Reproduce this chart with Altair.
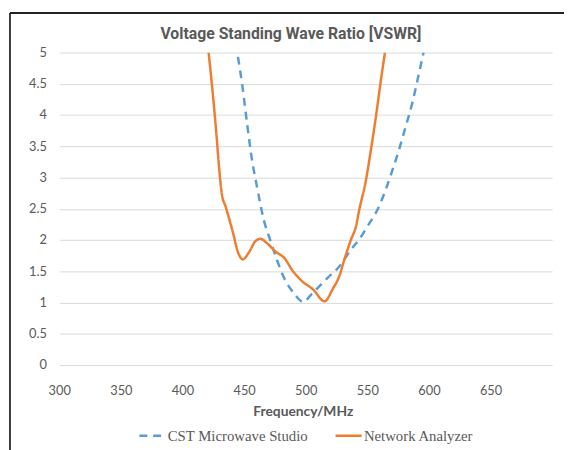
import altair as alt
import pandas as pd

# ---- data ----
title_text = "Voltage Standing Wave Ratio [VSWR]"
series_names = ["CST Microwave Studio", "Network Analyzer"]
series_colors = ["#5B9BD5", "#ED7D31"]

cst_freq = [445, 448.5, 452.5, 456.5, 460.5, 466, 471, 476.5, 483, 490, 498,
            505, 518, 527.4, 536.8, 543.4, 550.1, 558.1, 564.8, 570.2, 575.5,
            580.9, 586.2, 591.6, 595.6]
cst_vswr = [4.93, 4.48, 3.85, 3.27, 2.85, 2.32, 2.01, 1.69, 1.37, 1.16, 1.01,
            1.14, 1.40, 1.58, 1.85, 2.01, 2.22, 2.48, 2.80, 3.11, 3.43,
            3.80, 4.17, 4.64, 5.0]

na_freq = [421.2, 424.4, 427.5, 429.7, 431.9, 435.1, 440.4, 445.7, 449, 453.8,
           459.1, 463.2, 468.5, 475.2, 483.2, 488.6, 496.6, 505.9, 515.3, 522,
           527.4, 531.4, 536.8, 540.8, 543.4, 548.8, 552.8, 556.8, 560.8, 564.3]
na_vswr = [5.0, 4.38, 3.70, 3.16, 2.74, 2.53, 2.16, 1.77, 1.69, 1.80,
           1.98, 2.02, 1.95, 1.82, 1.70, 1.53, 1.35, 1.21, 1.02, 1.22,
           1.43, 1.69, 2.01, 2.22, 2.48, 2.95, 3.43, 3.95, 4.53, 5.0]

x_ticks = [300, 350, 400, 450, 500, 550, 600, 650]
y_ticks = [0, 0.5, 1, 1.5, 2, 2.5, 3, 3.5, 4, 4.5, 5]

rows = []
for i, (f, v) in enumerate(zip(cst_freq, cst_vswr)):
    rows.append({"series": series_names[0], "freq": f, "vswr": v, "order": i})
for i, (f, v) in enumerate(zip(na_freq, na_vswr)):
    rows.append({"series": series_names[1], "freq": f, "vswr": v, "order": i})
df = pd.DataFrame(rows)

TXT = "#595959"

legend = alt.Legend(
    title=None, orient="none", legendX=80, legendY=374, direction="horizontal",
    symbolType="stroke", symbolSize=700, symbolStrokeWidth=2.5,
    labelFont="Liberation Serif", labelFontSize=15, labelColor=TXT,
    labelOffset=1, columnPadding=22,
)

lines = alt.Chart(df).mark_line(strokeWidth=2.5, interpolate="monotone", clip=True).encode(
    x=alt.X("freq:Q",
            scale=alt.Scale(domain=[300, 700], nice=False, zero=False),
            axis=alt.Axis(values=x_ticks, format="d", title="Frequency/MHz", grid=False,
                          domain=False, ticks=False, labelFont="Lato", labelFontSize=13,
                          labelColor=TXT, labelPadding=20, labelFlush=False,
                          titleFont="Lato", titleFontSize=14, titleFontWeight="bold",
                          titleColor=TXT, titleX=247, titleY=47, titleAlign="center",
                          titleBaseline="middle")),
    y=alt.Y("vswr:Q",
            scale=alt.Scale(domain=[0, 5], nice=False),
            axis=alt.Axis(values=y_ticks, format="~g", title=None, grid=True,
                          gridColor="#D9D9D9", gridWidth=1, domain=False, ticks=False,
                          labelFont="Lato", labelFontSize=13, labelColor=TXT,
                          labelPadding=13)),
    color=alt.Color("series:N", scale=alt.Scale(domain=series_names, range=series_colors),
                    legend=legend),
    strokeDash=alt.StrokeDash("series:N",
                              scale=alt.Scale(domain=series_names, range=[[8, 6], [1, 0]]),
                              legend=legend),
    order="order:Q",
)

frame_data = alt.Data(values=[{"a": 0}])
left_border = alt.Chart(frame_data).mark_rule(color="#3a3a3a", strokeWidth=2).encode(
    x=alt.value(-50), y=alt.value(-40), y2=alt.value(440))
top_border = alt.Chart(frame_data).mark_rule(color="#222222", strokeWidth=2).encode(
    x=alt.value(-50), x2=alt.value(520), y=alt.value(-40))
title = alt.Chart(frame_data).mark_text(
    text=title_text, font="Roboto", fontSize=16, fontWeight="bold",
    color=TXT, align="center", baseline="middle",
).encode(x=alt.value(235), y=alt.value(-19))

chart = alt.layer(left_border, top_border, title, lines).properties(
    width=500, height=317,
    autosize=alt.AutoSizeParams(type="none"),
    padding={"left": 52, "top": 42, "right": 12, "bottom": 83},
).configure_view(stroke=None)

chart.save("out.html", embed_options={"renderer": "svg", "actions": False})
